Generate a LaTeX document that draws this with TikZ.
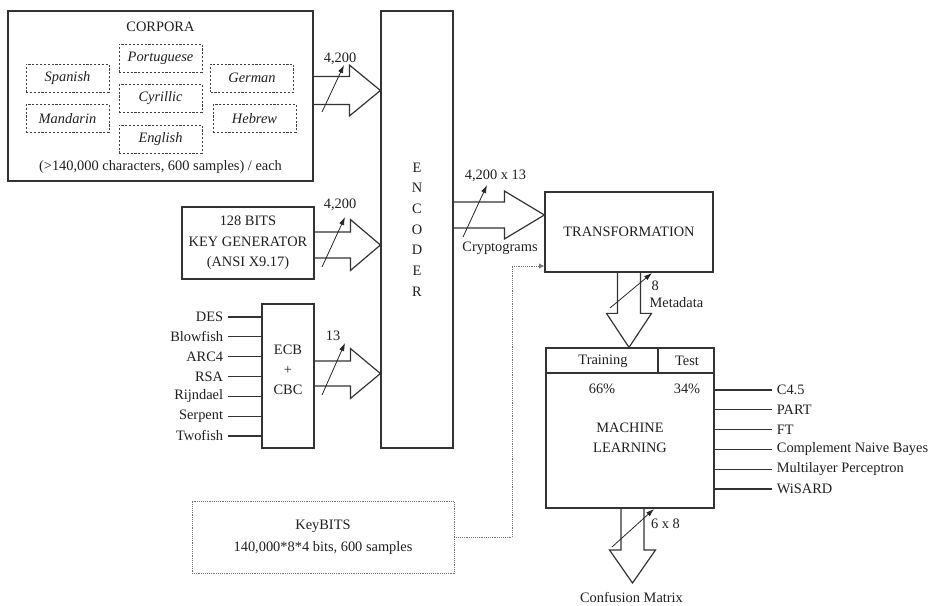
\documentclass[tikz,border=0pt]{standalone}
\usepackage{fontspec}
\setmainfont{Liberation Serif}
\usetikzlibrary{calc,arrows.meta}
\newdimen\pu \pu=0.75pt
\newcommand{\fatR}[5]{\draw[fat] (#1 |- #2) ++(0,-#4) -- ($(#2)+(-#3,-#4)$) -- ($(#2)+(-#3,-#5)$) -- (#2) -- ($(#2)+(-#3,#5)$) -- ($(#2)+(-#3,#4)$) -- ($(#1 |- #2)+(0,#4)$);}
\newcommand{\fatD}[5]{\draw[fat] (#1 -| #2) ++(-#4,0) -- ($(#2)+(-#4,-#3)$) -- ($(#2)+(-#5,-#3)$) -- (#2) -- ($(#2)+(#5,-#3)$) -- ($(#2)+(#4,-#3)$) -- ($(#1 -| #2)+(#4,0)$);}
\begin{document}
\begin{tikzpicture}[x=0.75pt,y=-0.75pt,
  every node/.style={font=\fontsize{10.8}{13}\selectfont, text=black!88},
  box/.style={draw=black!80, line width=0.9pt, inner sep=0pt},
  dbox/.style={draw=black!75, dash pattern=on 1.6pt off 1.3pt, line width=0.6pt, minimum width=83\pu, minimum height=28\pu, inner sep=0pt, font=\fontsize{10.8}{13}\selectfont\itshape},
  fat/.style={draw=black!80, line width=0.9pt},
  wire/.style={draw=black!80, line width=0.8pt},
  slash/.style={draw=black!85, -{Latex[length=6pt,width=4pt]}, line width=0.6pt},
  dots/.style={draw=black!55, dash pattern=on 0.6pt off 0.8pt, line width=0.6pt}]
\useasboundingbox (0,0) rectangle (933,606);

% ---------- CORPORA ----------
\node[box, minimum width=305\pu, minimum height=170\pu] (corpora) at (160.5,96) {};
\node (ctitle) at (160.5,27) {CORPORA};
\node[dbox] (spanish) at (67.5,78) {Spanish};
\node[dbox] (mandarin) at (67.5,118.5) {Mandarin};
\node[dbox] (portuguese) at (160.5,58) {Portuguese};
\node[dbox] (cyrillic) at (160.5,98.5) {Cyrillic};
\node[dbox] (english) at (160.5,139) {English};
\node[dbox] (german) at (252,78) {German};
\node[dbox] (hebrew) at (254.5,118.5) {Hebrew};
\node (cnote) at (160.5,167) {(>140,000 characters, 600 samples) / each};

% ---------- ENCODER ----------
\node[box, minimum width=72\pu, minimum height=437\pu, align=center,
      font=\fontsize{10.8}{15.5}\selectfont] (encoder) at (417,229.5) {E\\N\\C\\O\\D\\E\\R};

% ---------- KEY GENERATOR ----------
\node[box, minimum width=132\pu, minimum height=72\pu, align=center,
      font=\fontsize{10.8}{15.4}\selectfont] (keygen) at (248,243) {128 BITS\\KEY GENERATOR\\(ANSI X9.17)};

% ---------- ECB + CBC ----------
\node[box, minimum width=52\pu, minimum height=144\pu] (ecb) at (288,376) {};
\node[align=center, font=\fontsize{10.8}{15}\selectfont] (ecbtxt) at (288,370) {ECB\\+\\CBC};

\foreach \n/\t [count=\i from 0] in {des/DES,blowfish/Blowfish,arc/ARC4,rsa/RSA,rijndael/Rijndael,serpent/Serpent,twofish/Twofish}{
  \node[anchor=east, inner sep=2pt] (\n) at (226,317+19.83*\i) {\t};
  \draw[wire] (\n.east) ++(2\pu,0) -- (ecb.west |- \n.east);
}

% ---------- TRANSFORMATION ----------
\node[box, minimum width=168\pu, minimum height=80\pu] (trans) at (629,232) {TRANSFORMATION};

% ---------- MACHINE LEARNING ----------
\node[box, minimum width=168\pu, minimum height=160\pu] (ml) at (630,428) {};
\coordinate (hdr) at (0,373);
\coordinate (div) at (658,0);
\draw[wire] (ml.west |- hdr) -- (ml.east |- hdr);
\draw[wire] (div |- ml.north) -- (div |- hdr);
\node (training) at (603,361) {Training};
\node (test) at (687,361) {Test};
\node (p66) at (602,389) {66\%};
\node (p34) at (687,389) {34\%};
\node[align=center, font=\fontsize{10.8}{15}\selectfont] (mltxt) at (630,438) {MACHINE\\LEARNING};

\foreach \n/\t [count=\i from 0] in {c45/C4.5,part/PART,ft/FT,cnb/Complement Naive Bayes,mlp/Multilayer Perceptron,wisard/WiSARD}{
  \node[anchor=west, inner sep=2pt] (\n) at (774,390+19.8*\i) {\t};
  \draw[wire] (ml.east |- \n.west) -- ($(\n.west)+(-2,0)$);
}

% ---------- KeyBITS ----------
\node[dots, minimum width=262\pu, minimum height=72\pu, align=center,
      font=\fontsize{10.8}{16.5}\selectfont] (keybits) at (323,537) {KeyBITS\\140,000*8*4 bits, 600 samples};
\coordinate (kx) at (512,266);
\draw[dots, -{Latex[length=4pt,width=4pt]}] (keybits.east) -| (kx) -- (kx -| trans.west);

% ---------- fat arrows ----------
\coordinate (y1) at (0,90.5);  \coordinate (t1) at (encoder.west |- y1);
\coordinate (y2) at (0,245);   \coordinate (t2) at (encoder.west |- y2);
\coordinate (y3) at (0,373.5); \coordinate (t3) at (encoder.west |- y3);
\coordinate (y4) at (0,215);   \coordinate (t4) at (trans.west |- y4);
\fatR{corpora.east}{t1}{31}{14}{25.5}
\fatR{keygen.east}{t2}{30}{13}{25.5}
\fatR{ecb.east}{t3}{30}{12.5}{25}
\fatR{encoder.east}{t4}{40}{13}{24}
\coordinate (t5) at (ml.north -| trans.south);
\fatD{trans.south}{t5}{34}{11.5}{22.5}
\coordinate (t6) at (632.5,583);
\fatD{ml.south}{t6}{33}{11.5}{23}

% ---------- slashes and labels ----------
\coordinate (s1a) at (322,112); \coordinate (s1b) at (344,65);
\draw[slash] (s1a) -- (s1b);
\node (l1) at (340,59) {4,200};
\coordinate (s2a) at (322,267); \coordinate (s2b) at (345,217);
\draw[slash] (s2a) -- (s2b);
\node (l2) at (340,205) {4,200};
\coordinate (s3a) at (322,395); \coordinate (s3b) at (345,343);
\draw[slash] (s3a) -- (s3b);
\node (l3) at (333,336) {13};
\coordinate (s4a) at (463,237); \coordinate (s4b) at (487,185);
\draw[slash] (s4a) -- (s4b);
\node (l4) at (495.5,176) {4,200 x 13};
\node (crypt) at (500,248) {Cryptograms};
\coordinate (s5a) at (610,308); \coordinate (s5b) at (652,273);
\draw[slash] (s5a) -- (s5b);
\node[anchor=west, inner sep=1pt] (l5) at (650,286) {8};
\node[anchor=west, inner sep=1pt] (meta) at (648,303) {Metadata};
\coordinate (s6a) at (612,547); \coordinate (s6b) at (654,509);
\draw[slash] (s6a) -- (s6b);
\node (l6) at (665.5,524) {6 x 8};
\node (conf) at (631.5,597) {Confusion Matrix};
\end{tikzpicture}
\end{document}
